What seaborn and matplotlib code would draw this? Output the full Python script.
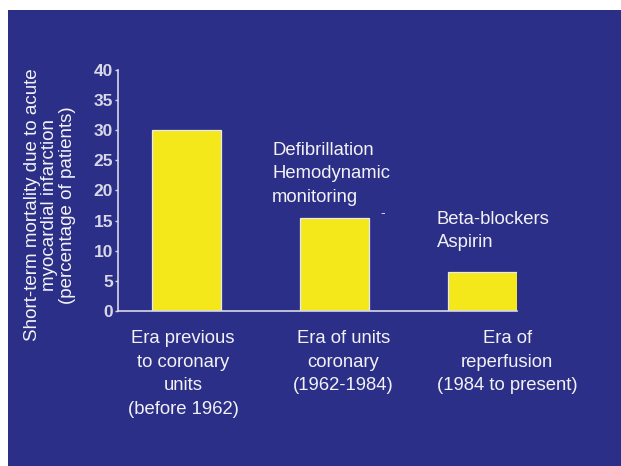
import matplotlib
matplotlib.use("Agg")
import matplotlib.pyplot as plt
import matplotlib.transforms as mtransforms
from matplotlib.patches import Rectangle
import seaborn as sns
import pandas as pd

categories = ["Era previous\nto coronary\nunits\n(before 1962)",
              "Era of units\ncoronary\n(1962-1984)",
              "Era of\nreperfusion\n(1984 to present)"]
mortality = [30, 15.5, 6.5]
y_ticks = [0, 5, 10, 15, 20, 25, 30, 35, 40]
ylabel = "Short-term mortality due to acute\nmyocardial infarction\n(percentage of patients)"
note_units = "Defibrillation\nHemodynamic\nmonitoring"
note_reperf = "Beta-blockers\nAspirin"

BLUE = "#2B2F87"
YELLOW = "#F4E81A"
LIGHT = "#D8D8E8"
WHITE = "#F2F2F6"

plt.rcParams['font.family'] = ['Liberation Sans', 'DejaVu Sans']

df = pd.DataFrame({"era": categories, "mortality": mortality})

fig = plt.figure(figsize=(6.21, 4.66), dpi=100)
fig.patch.set_facecolor("white")
fig.patches.append(Rectangle((8/621, 0), 1, (466-10)/466, transform=fig.transFigure,
                             facecolor=BLUE, edgecolor="none", zorder=-10))

ax = fig.add_axes([118/621, (466-311)/466, 399/621, (311-70)/466])
ax.set_zorder(5)
ax.set_facecolor("none")
sns.barplot(data=df, x="era", y="mortality", color=YELLOW, width=0.465,
            edgecolor="#E8E8F0", linewidth=0.9, saturation=1, ax=ax)

ax.set_xlim(-0.46, 2.235)
ax.set_ylim(0, 40)
ax.set_yticks(y_ticks)
ax.set_yticklabels([str(t) for t in y_ticks], fontsize=12.5, fontweight="bold", color=LIGHT)
ax.tick_params(axis="y", direction="out", length=2.5, width=1, color=LIGHT, pad=1)
ax.tick_params(axis="x", length=0, pad=14)
ax.set_xticks(range(len(categories)))
ax.set_xticklabels(categories, fontsize=13.3, color=WHITE, linespacing=1.5)
offsets = [-3, 9, 25]
for lab, dx in zip(ax.get_xticklabels(), offsets):
    lab.set_transform(lab.get_transform() + mtransforms.ScaledTranslation(dx/100, 0, fig.dpi_scale_trans))

ax.set_xlabel("")
ax.set_ylabel("")
for s in ["top", "right"]:
    ax.spines[s].set_visible(False)
for s in ["left", "bottom"]:
    ax.spines[s].set_color(LIGHT)
    ax.spines[s].set_linewidth(1.2)

fig.text(50/621, 1-205/466, ylabel, rotation=90, ha="center", va="center",
         fontsize=13.5, color=WHITE, linespacing=1.05)

fig.text(272/621, 1-174/466, note_units, ha="left", va="center", fontsize=13.3,
         color=WHITE, linespacing=1.5)
fig.text(437/621, 1-231/466, note_reperf, ha="left", va="center", fontsize=13.3,
         color=WHITE, linespacing=1.5)
fig.text(383/621, 1-213/466, "-", ha="center", va="center", fontsize=10, color=LIGHT)

fig.savefig("out.png", dpi=100, facecolor=fig.get_facecolor())
